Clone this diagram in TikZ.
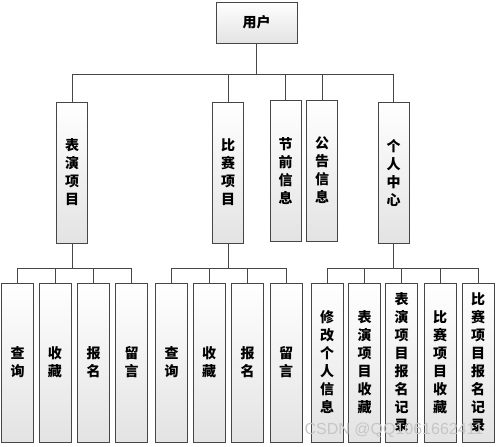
\documentclass[tikz,border=0pt]{standalone}
\usepackage{fontspec}
\newfontfamily\cjk{Noto Sans CJK SC}
\newfontfamily\wmfont{Liberation Sans}
\tikzset{
	box/.style={draw=gray!55!black, line width=1pt, top color=white,
		bottom color=gray!22, inner sep=0pt, align=center,
		font=\cjk\bfseries\fontsize{14}{18}\selectfont},
	midbox/.style={box, minimum width=31pt, minimum height=141pt},
	lowbox/.style={box, minimum width=32pt, minimum height=159pt},
	link/.style={draw=gray!55!black, line width=1pt},
}
\begin{document}
\begin{tikzpicture}[x=1pt, y=-1pt]
	\useasboundingbox (0, 0) rectangle (499, 447);
	% Root.
	\node[box, minimum width=81pt, minimum height=41pt] (user) at (256.5, 22.5) {用户};
	% Second level.
	\node[midbox] (biaoyan) at (72, 172.5) {表\\演\\项\\目};
	\node[midbox] (bisai) at (228, 172.5) {比\\赛\\项\\目};
	\node[midbox] (jieqian) at (285.5, 171) {节\\前\\信\\息};
	\node[midbox] (gonggao) at (322, 170.5) {公\\告\\信\\息};
	\node[midbox] (geren) at (393.5, 173) {个\\人\\中\\心};
	% Third level, performances.
	\node[lowbox] (bychaxun) at (17.5, 362.5) {查\\询};
	\node[lowbox] (byshoucang) at (55, 362.5) {收\\藏};
	\node[lowbox] (bybaoming) at (93.5, 362.5) {报\\名};
	\node[lowbox] (byliuyan) at (131.5, 362.5) {留\\言};
	% Third level, contests.
	\node[lowbox] (bschaxun) at (171.5, 362.5) {查\\询};
	\node[lowbox] (bsshoucang) at (209, 362.5) {收\\藏};
	\node[lowbox] (bsbaoming) at (247.5, 362.5) {报\\名};
	\node[lowbox] (bsliuyan) at (286, 362.5) {留\\言};
	% Third level, personal centre.
	\node[lowbox] (xiugai) at (327, 362.5) {修\\改\\个\\人\\信\\息};
	\node[lowbox] (byfav) at (364.5, 362.5) {表\\演\\项\\目\\收\\藏};
	\node[lowbox] (byrec) at (401.5, 362.5) {表\\演\\项\\目\\报\\名\\记\\录};
	\node[lowbox] (bsfav) at (440, 362.5) {比\\赛\\项\\目\\收\\藏};
	\node[lowbox] (bsrec) at (478, 362.5) {比\\赛\\项\\目\\报\\名\\记\\录};
	% Bus lines.
	\coordinate (topbus) at (0, 74);
	\coordinate (lowbus) at (0, 268);
	% Root to second level.
	\draw[link] (user.south) |- (topbus -| biaoyan.north) -- (biaoyan.north);
	\draw[link] (user.south) |- (topbus -| bisai.north) -- (bisai.north);
	\draw[link] (user.south) |- (topbus -| jieqian.north) -- (jieqian.north);
	\draw[link] (user.south) |- (topbus -| gonggao.north) -- (gonggao.north);
	\draw[link] (user.south) |- (topbus -| geren.north) -- (geren.north);
	% Second to third level.
	\draw[link] (biaoyan.south) |- (lowbus -| bychaxun.north) -- (bychaxun.north);
	\draw[link] (biaoyan.south) |- (lowbus -| byshoucang.north) -- (byshoucang.north);
	\draw[link] (biaoyan.south) |- (lowbus -| bybaoming.north) -- (bybaoming.north);
	\draw[link] (biaoyan.south) |- (lowbus -| byliuyan.north) -- (byliuyan.north);
	\draw[link] (bisai.south) |- (lowbus -| bschaxun.north) -- (bschaxun.north);
	\draw[link] (bisai.south) |- (lowbus -| bsshoucang.north) -- (bsshoucang.north);
	\draw[link] (bisai.south) |- (lowbus -| bsbaoming.north) -- (bsbaoming.north);
	\draw[link] (bisai.south) |- (lowbus -| bsliuyan.north) -- (bsliuyan.north);
	\draw[link] (geren.south) |- (lowbus -| xiugai.north) -- (xiugai.north);
	\draw[link] (geren.south) |- (lowbus -| byfav.north) -- (byfav.north);
	\draw[link] (geren.south) |- (lowbus -| byrec.north) -- (byrec.north);
	\draw[link] (geren.south) |- (lowbus -| bsfav.north) -- (bsfav.north);
	\draw[link] (geren.south) |- (lowbus -| bsrec.north) -- (bsrec.north);
	% Watermark.
	\node[text=gray!45, font=\wmfont\fontsize{16}{16}\selectfont] (watermark)
		at (394, 430) {CSDN @QQ1061662411};
\end{tikzpicture}
\end{document}
